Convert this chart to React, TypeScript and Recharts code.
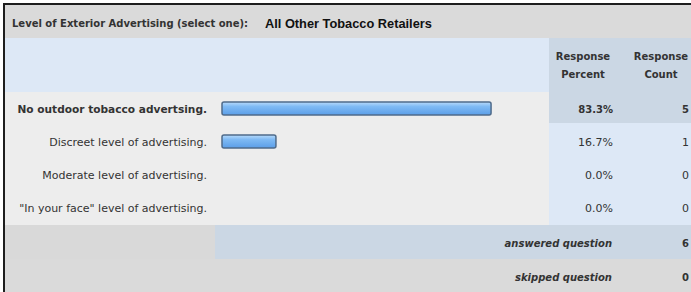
import { BarChart, Bar, XAxis, YAxis } from "recharts";

const answers = [
  "No outdoor tobacco advertsing.",
  "Discreet level of advertising.",
  "Moderate level of advertising.",
  "\"In your face\" level of advertising.",
];
const percents = [83.3, 16.7, 0.0, 0.0];
const counts = [5, 1, 0, 0];
const answeredCount = 6;
const skippedCount = 0;
const questionTitle = "Level of Exterior Advertising (select one):";
const groupTitle = "All Other Tobacco Retailers";

const rows = answers.map((label, i) => ({
  label,
  percent: percents[i],
  count: counts[i],
}));

const FONT = "'DejaVu Sans', Verdana, sans-serif";
const FONT_B = "'Liberation Sans', Arial, Helvetica, sans-serif";

function box(left: number, top: number, width: number, height: number, bg: string) {
  return (
    <div
      style={{ position: "absolute", left, top, width, height, background: bg }}
    />
  );
}

function txt(content: string, style: React.CSSProperties) {
  return (
    <div
      style={{
        position: "absolute",
        fontFamily: FONT,
        fontSize: 11,
        color: "#333",
        whiteSpace: "nowrap",
        lineHeight: "14px",
        ...style,
      }}
    >
      {content}
    </div>
  );
}

function LeftTick(props: any) {
  const { y, payload } = props;
  const first = payload.index === 0;
  return (
    <text
      x={207}
      y={y}
      dy={4}
      textAnchor="end"
      fontFamily={FONT}
      fontSize={first ? 10.6 : 11}
      fontWeight={first ? "bold" : "normal"}
      fill="#333"
    >
      {payload.value}
    </text>
  );
}

function RightTick(props: any) {
  const { y, payload } = props;
  const i = payload.index;
  const first = i === 0;
  return (
    <g
      fontFamily={FONT}
      fontSize={first ? 10 : 11}
      fill="#333"
      fontWeight={first ? "bold" : "normal"}
    >
      <text x={613} y={y} dy={4} textAnchor="end">
        {percents[i].toFixed(1)}%
      </text>
      <text x={689} y={y} dy={4} textAnchor="end">
        {counts[i]}
      </text>
    </g>
  );
}

export default function App() {
  return (
    <div
      style={{
        position: "absolute",
        left: 0,
        top: 0,
        width: 691,
        height: 292,
        background: "#fff",
        overflow: "hidden",
      }}
    >
      {box(5, 5, 686, 33, "#dadada")}
      {box(5, 38, 544, 54, "#dde8f6")}
      {box(549, 38, 142, 54, "#cbd7e4")}
      {box(5, 92, 544, 133, "#ededed")}
      {box(549, 92, 142, 31, "#cbd7e4")}
      {box(549, 123, 142, 102, "#dde8f6")}
      {box(5, 225, 210, 34, "#d9d9d9")}
      {box(215, 225, 476, 34, "#cbd7e4")}
      {box(5, 259, 686, 33, "#dadada")}
      <div
        style={{
          position: "absolute",
          left: 3,
          top: 3,
          width: 700,
          height: 300,
          borderLeft: "2px solid #1e1e1e",
          borderTop: "2px solid #1e1e1e",
        }}
      />

      {txt(questionTitle, { left: 12, top: 17, fontWeight: "bold", fontSize: 10 })}
      {txt(groupTitle, {
        left: 265,
        top: 17,
        fontFamily: FONT_B,
        fontWeight: "bold",
        fontSize: 12.8,
        color: "#111",
      })}

      {txt("Response", { left: 548, width: 70, top: 50, textAlign: "center", fontWeight: "bold", fontSize: 10 })}
      {txt("Percent", { left: 548, width: 70, top: 68, textAlign: "center", fontWeight: "bold", fontSize: 10 })}
      {txt("Response", { left: 626, width: 70, top: 50, textAlign: "center", fontWeight: "bold", fontSize: 10 })}
      {txt("Count", { left: 626, width: 70, top: 68, textAlign: "center", fontWeight: "bold", fontSize: 10 })}

      <div style={{ position: "absolute", left: 0, top: 92 }}>
        <BarChart
          width={691}
          height={132}
          data={rows}
          layout="vertical"
          margin={{ top: 0, right: 0, bottom: 0, left: 0 }}
        >
          <defs>
            <linearGradient id="barFill" x1="0" y1="0" x2="0" y2="1">
              <stop offset="0%" stopColor="#b9dbfb" />
              <stop offset="35%" stopColor="#7fbaf4" />
              <stop offset="100%" stopColor="#5b9ee8" />
            </linearGradient>
          </defs>
          <XAxis type="number" domain={[0, 100]} hide />
          <YAxis
            yAxisId="left"
            type="category"
            dataKey="label"
            width={222}
            axisLine={false}
            tickLine={false}
            tick={<LeftTick />}
            interval={0}
          />
          <YAxis
            yAxisId="right"
            orientation="right"
            type="category"
            dataKey="label"
            width={146}
            axisLine={false}
            tickLine={false}
            tick={<RightTick />}
            interval={0}
          />
          <Bar
            yAxisId="left"
            dataKey="percent"
            barSize={13}
            fill="url(#barFill)"
            stroke="#4f6b8a"
            strokeWidth={1.5}
            radius={2}
            isAnimationActive={false}
          />
        </BarChart>
      </div>

      {txt("answered question", {
        right: 691 - 612,
        top: 237,
        fontWeight: "bold",
        fontStyle: "italic",
        fontSize: 10,
      })}
      {txt(String(answeredCount), { right: 2, top: 237, fontWeight: "bold", fontSize: 10 })}
      {txt("skipped question", {
        right: 691 - 612,
        top: 271,
        fontWeight: "bold",
        fontStyle: "italic",
        fontSize: 10,
      })}
      {txt(String(skippedCount), { right: 2, top: 271, fontWeight: "bold", fontSize: 10 })}
    </div>
  );
}
